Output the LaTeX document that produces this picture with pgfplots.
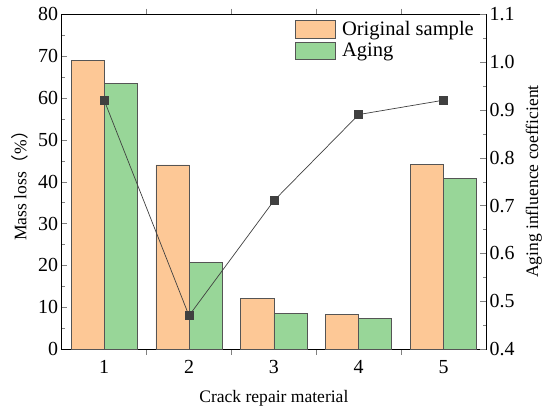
\documentclass[border=0pt]{standalone}
\usepackage{fontspec}
\setmainfont{Liberation Serif}
\newfontfamily\cjk{Noto Sans CJK SC}
\usepackage{pgfplots}
\pgfplotsset{compat=1.18}
\definecolor{origc}{RGB}{253,200,150}
\definecolor{agec}{RGB}{152,214,152}
\definecolor{edgec}{RGB}{85,85,85}
\definecolor{linec}{RGB}{64,64,64}
\begin{document}
\begin{tikzpicture}
\pgfplotsset{
  every axis/.append style={
    scale only axis, width=424bp, height=335bp,
    xmin=0.5, xmax=5.5,
    tick align=inside,
    major tick length=5.5bp, minor tick length=3.3bp,
    /pgf/number format/assume math mode=true,
    tick label style={font=\fontsize{20}{22}\selectfont},
    label style={font=\fontsize{17.6}{20}\selectfont},
    line width=0.8pt,
  }
}
\begin{axis}[
  name=main,
  ymin=0, ymax=80,
  ytick={0,10,...,80},
  minor y tick num=1,
  ytick pos=left,
  xtick={1.5,2.5,3.5,4.5},
  xticklabels={},
  xtick pos=both,
  extra x ticks={1,2,3,4,5},
  extra x tick labels={1,2,3,4,5},
  extra x tick style={tick style={draw=none}, xticklabel style={yshift=-2bp}},
  xlabel={Crack repair material},
  ylabel={Mass loss{\cjk（}\%{\cjk）}},
  ylabel style={yshift=3bp},
  xlabel style={yshift=-4bp},
  ybar, bar width=0.39,
  legend style={at={(0.55,0.985)}, anchor=north west, draw=none, fill=none,
    font=\fontsize{20.6}{22}\selectfont, row sep=2bp, inner sep=0pt},
  legend cell align=left,
  legend image code/.code={\draw[#1, line width=0.6pt] (0bp,-8.5bp) rectangle (40bp,8.5bp);},
]
\addplot[fill=origc, draw=edgec, line width=0.6pt, bar shift=-0.195] coordinates {(1,68.9) (2,44.0) (3,12.1) (4,8.4) (5,44.1)};
\addlegendentry{\hspace{4bp}Original sample}
\addplot[fill=agec, draw=edgec, line width=0.6pt, bar shift=0.195] coordinates {(1,63.4) (2,20.8) (3,8.5) (4,7.4) (5,40.8)};
\addlegendentry{\hspace{4bp}Aging}
\end{axis}
\begin{axis}[
  axis x line=none,
  axis y line*=right,
  ymin=0.4, ymax=1.1,
  ytick={0.4,0.5,...,1.1},
  minor y tick num=1,
  yticklabel style={/pgf/number format/.cd, fixed, fixed zerofill, precision=1},
  ylabel={Aging influence coefficient},
  ylabel style={yshift=-4bp},
]
\addplot[color=linec, line width=0.7pt, mark=square*, mark size=4bp, mark options={fill=linec, draw=linec}] coordinates {(1,0.92) (2,0.47) (3,0.71) (4,0.89) (5,0.92)};
\end{axis}
\pgfresetboundingbox
\useasboundingbox ([xshift=-61.7bp,yshift=-62bp]main.south west) rectangle ([xshift=64bp,yshift=14bp]main.north east);
\end{tikzpicture}
\end{document}
